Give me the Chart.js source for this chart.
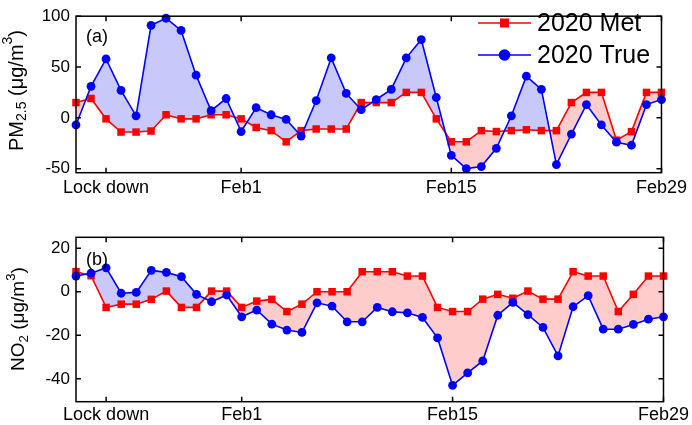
<!DOCTYPE html>
<html><head><meta charset="utf-8">
<script src="https://cdn.jsdelivr.net/npm/chart.js@4.4.0/dist/chart.umd.min.js"></script>
<style>
html,body{margin:0;padding:0;background:#fff;}
.w{position:absolute;left:0;top:0;width:692px;height:425px;}
</style></head><body>
<div class="w"><canvas id="ca"></canvas></div>
<div class="w"><canvas id="cb"></canvas></div>
<script>
// ---- data ----
const dates = ['Jan21','Jan22','Jan23','Jan24','Jan25','Jan26','Jan27','Jan28','Jan29','Jan30','Jan31',
  'Feb1','Feb2','Feb3','Feb4','Feb5','Feb6','Feb7','Feb8','Feb9','Feb10','Feb11','Feb12','Feb13','Feb14',
  'Feb15','Feb16','Feb17','Feb18','Feb19','Feb20','Feb21','Feb22','Feb23','Feb24','Feb25','Feb26','Feb27','Feb28','Feb29'];
const xTickDates = ['Jan23','Feb1','Feb15','Feb29'];
const xTickLabels = ['Lock down','Feb1','Feb15','Feb29'];
const seriesNames = ['2020 Met','2020 True'];

const pm25Met = [15,19,-1,-14,-14,-13,3,-1,-1,3,3,-1,-9.5,-12.6,-23.6,-12.6,-11,-11,-11,15,15,15,25,25,-1,
  -23.6,-23.6,-12.6,-13.5,-12.6,-11.7,-12.6,-12.6,15,25,25,-22,-13.6,25,25];
const pm25True = [-7,31,58,27,2,91,98,86,42,7,19,-13.5,10,3,-1.6,-18,17,59,24,8,18,28,59,77,20,
  -37,-50,-48,-30,2,41,28,-46,-16,13,-7,-24,-27,13,18];
const no2Met = [9.2,7.4,-7.2,-5.7,-5.7,-3.5,0.3,-7.2,-7.2,0.3,0.3,-7.2,-4.3,-3.5,-9.1,-5.7,0,0,0,9.2,9.2,9.2,7.2,7.2,-7.2,
  -9.1,-9.1,-3.4,-1.2,-3,0.3,-3.4,-3.4,9.2,7.2,7.2,-9.1,-1.2,7.2,7.2];
const no2True = [7.2,8.5,11,-0.7,-0.3,9.8,8.9,6.9,-1.2,-4.6,-1.5,-11.5,-8.4,-14.9,-17.6,-18.7,-5.1,-6.6,-13.8,-13.8,-7.2,-9.2,-9.7,-11.8,-21.2,
  -43,-37.3,-31.8,-10.8,-4.9,-10.5,-16.4,-29.5,-6.9,-1.8,-17.2,-17.2,-15,-12.6,-11.5];
const pmTicks = [-50,0,50,100];
const no2Ticks = [-40,-20,0,20];

// ---- styling ----
const FONT = "'Liberation Sans', Arial, Helvetica, sans-serif";
const RED = '#ff0000', BLUE = '#0000ff';
const FILL_BLUE = 'rgb(200,200,250)', FILL_RED = 'rgb(255,204,204)';

function framePlugin(cfg){
  return {
    id:'frame'+cfg.id,
    afterDraw(chart){
      const ctx = chart.ctx, a = chart.chartArea;
      const xs = chart.scales.x, ys = chart.scales.y;
      ctx.save();
      ctx.strokeStyle = '#000'; ctx.lineWidth = 1.5;
      ctx.strokeRect(a.left, a.top, a.right - a.left, a.bottom - a.top);
      const tl = 5;
      ctx.beginPath();
      xTickDates.forEach(d=>{
        const px = xs.getPixelForValue(dates.indexOf(d));
        ctx.moveTo(px, a.bottom); ctx.lineTo(px, a.bottom - tl);
        ctx.moveTo(px, a.top); ctx.lineTo(px, a.top + tl);
      });
      cfg.yTicks.forEach(v=>{
        const py = ys.getPixelForValue(v);
        ctx.moveTo(a.left, py); ctx.lineTo(a.left + tl, py);
        ctx.moveTo(a.right, py); ctx.lineTo(a.right - tl, py);
      });
      ctx.stroke();
      // panel label
      ctx.fillStyle = '#000';
      ctx.font = '18px ' + FONT;
      ctx.textBaseline = 'middle'; ctx.textAlign = 'left';
      ctx.fillText(cfg.panel, a.left + 10, a.top + cfg.panelDy);
      // y title with sub/superscripts
      const f = cfg.titleSize;
      const segs = cfg.title;
      let total = 0;
      segs.forEach(s=>{ ctx.font = (s.k ? f*0.7 : f) + 'px ' + FONT; s.w = ctx.measureText(s.t).width; total += s.w; });
      ctx.translate(cfg.titleX, cfg.titleY);
      ctx.rotate(-Math.PI/2);
      let x = -total/2;
      segs.forEach(s=>{
        ctx.font = (s.k ? f*0.7 : f) + 'px ' + FONT;
        const dy = s.k === 'sub' ? f*0.28 : (s.k === 'sup' ? -f*0.42 : 0);
        ctx.fillText(s.t, x, dy);
        x += s.w;
      });
      ctx.restore();
      if (cfg.legend){
        ctx.save();
        const ds = chart.data.datasets;
        const rows = [23, 55];
        ds.forEach((d, i)=>{
          const y = rows[i];
          ctx.strokeStyle = d.borderColor; ctx.fillStyle = d.borderColor; ctx.lineWidth = 1.6;
          ctx.beginPath(); ctx.moveTo(478, y); ctx.lineTo(531, y); ctx.stroke();
          if (d.pointStyle === 'rect'){ ctx.fillRect(504.5-4.5, y-4.5, 9, 9); }
          else { ctx.beginPath(); ctx.arc(504.5, y, 5.8, 0, Math.PI*2); ctx.fill(); }
          ctx.fillStyle = '#000'; ctx.font = '25px ' + FONT;
          ctx.textBaseline = 'middle'; ctx.textAlign = 'left';
          ctx.fillText(d.label, 537, y + 1);
        });
        ctx.restore();
      }
    }
  };
}

function makeChart(id, met, tru, yMin, yMax, yTicks, top, bottom, labelPad, extra){
  return new Chart(document.getElementById(id), {
    type:'line',
    data:{ labels: dates, datasets:[
      { label: seriesNames[0], data: met, borderColor: RED, backgroundColor: RED, pointBackgroundColor: RED,
        pointStyle:'rect', pointRadius:5.3, pointHoverRadius:5.3, pointBorderWidth:0, borderWidth:1.6,
        fill:false, order:2, clip:false, tension:0 },
      { label: seriesNames[1], data: tru, borderColor: BLUE, backgroundColor: BLUE, pointBackgroundColor: BLUE,
        pointStyle:'circle', pointRadius:4.4, pointHoverRadius:4.4, pointBorderWidth:0, borderWidth:1.6,
        fill:{ target:0, above: FILL_BLUE, below: FILL_RED }, order:1, clip:false, tension:0 }
    ]},
    options:{
      responsive:true, maintainAspectRatio:false, animation:false,
      layout:{ padding:{ left:0, right:26, top: top, bottom:0 } },
      plugins:{ legend:{display:false}, tooltip:{enabled:false}, filler:{ drawTime:'beforeDatasetsDraw' } },
      scales:{
        x:{ type:'category', offset:false,
          grid:{display:false, drawTicks:false}, border:{display:false},
          ticks:{ autoSkip:false, maxRotation:0, padding:labelPad, color:'#000', font:{family:FONT, size:18},
            callback:(v)=>{ const k = xTickDates.indexOf(dates[v]); return k >= 0 ? xTickLabels[k] : null; } },
          afterBuildTicks:(s)=>{ s.ticks = xTickDates.map(d=>({value: dates.indexOf(d)})); },
          afterFit:(s)=>{ s.height = 425 - bottom; }
        },
        y:{ min:yMin, max:yMax,
          grid:{display:false, drawTicks:false}, border:{display:false},
          ticks:{ padding:6, color:'#000', font:{family:FONT, size:17} },
          afterBuildTicks:(s)=>{ s.ticks = yTicks.map(v=>({value:v})); },
          afterFit:(s)=>{ s.width = 76; }
        }
      }
    },
    plugins:[ framePlugin(extra) ]
  });
}

makeChart('ca', pm25Met, pm25True, -54, 100, pmTicks, 9, 172.7, 5, {
  id:'a', yTicks: pmTicks, panel:'(a)', panelDy:21, legend:true,
  titleSize:20, titleX:17, titleY:90.5,
  title:[{t:'PM'},{t:'2.5',k:'sub'},{t:' (μg/m'},{t:'3',k:'sup'},{t:')'}]
});
makeChart('cb', no2Met, no2True, -50.5, 25, no2Ticks, 237.3, 401.7, 3, {
  id:'b', yTicks: no2Ticks, panel:'(b)', panelDy:23, legend:false,
  titleSize:19, titleX:19, titleY:319,
  title:[{t:'NO'},{t:'2',k:'sub'},{t:' (μg/m'},{t:'3',k:'sup'},{t:')'}]
});
</script>
</body></html>
